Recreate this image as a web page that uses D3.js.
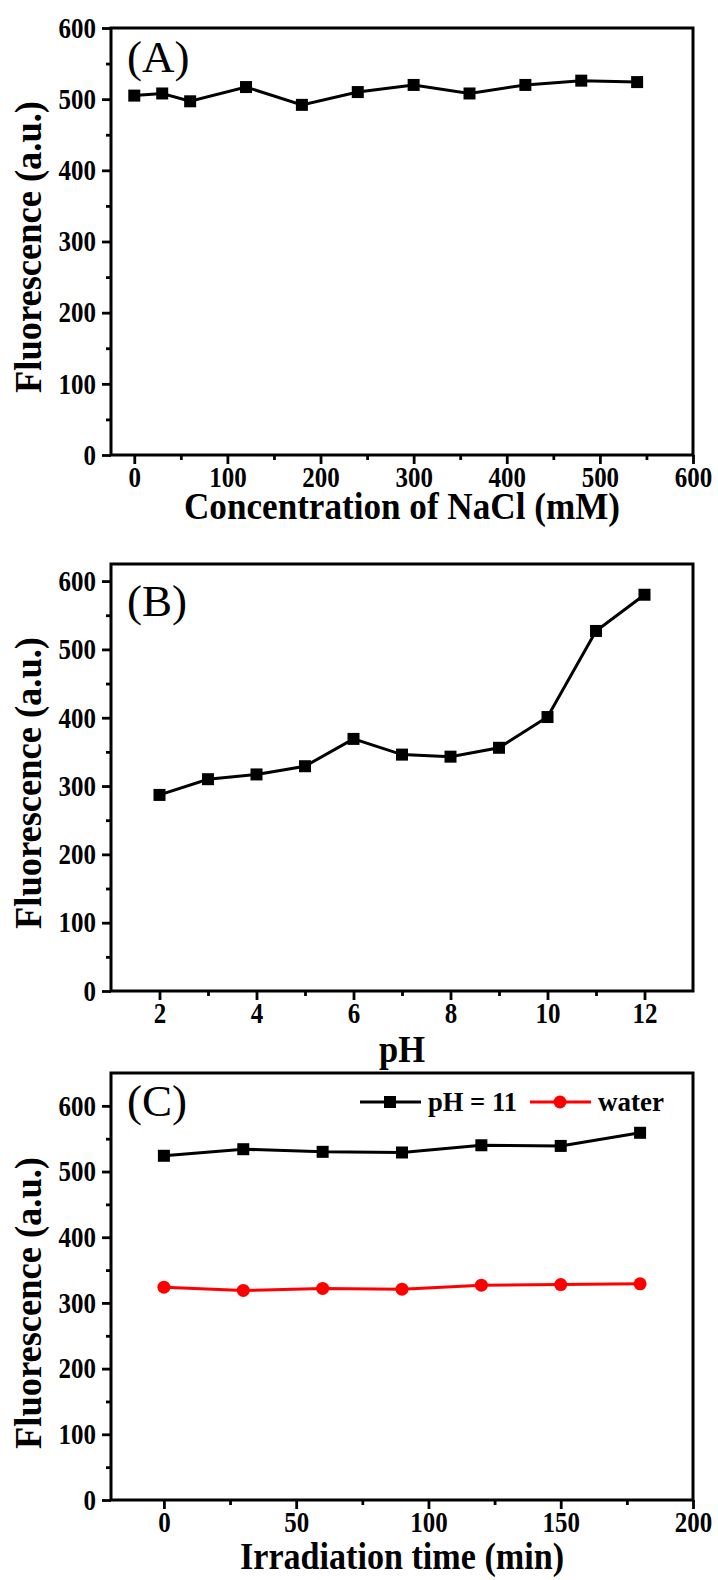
<!DOCTYPE html>
<html>
<head>
<meta charset="utf-8">
<script src="https://cdn.jsdelivr.net/npm/d3@7"></script>
<style>
  body { margin: 0; background: #fff; }
</style>
</head>
<body>
<div id="chart"></div>
<script>
// data
var naclConc = [0, 30, 60, 120, 180, 240, 300, 360, 420, 480, 540];
var naclFluor = [505, 508, 497, 517, 492, 510, 520, 508, 520, 526, 524];

var phVals = [2, 3, 4, 5, 6, 7, 8, 9, 10, 11, 12];
var phFluor = [287, 310, 317, 329, 369, 346, 343, 356, 401, 527, 580];

var irrTime = [0, 30, 60, 90, 120, 150, 180];
var fluorPH11 = [524, 534, 530, 529, 540, 539, 559];
var fluorWater = [324, 319, 322, 321, 327, 328, 329];

var yTicks = [0, 100, 200, 300, 400, 500, 600];
var yMinor = [50, 150, 250, 350, 450, 550];
var naclTicks = [0, 100, 200, 300, 400, 500, 600];
var naclMinor = [50, 150, 250, 350, 450, 550];
var phTicks = [2, 4, 6, 8, 10, 12];
var phMinor = [3, 5, 7, 9, 11];
var timeTicks = [0, 50, 100, 150, 200];
var timeMinor = [25, 75, 125, 175];

var legendNames = ["pH = 11", "water"];

var FONT = "Liberation Serif";
var W = 718, H = 1580;
var left = 111, plotW = 582, plotH = 427;

var svg = d3.select("#chart").append("svg")
    .attr("width", W)
    .attr("height", H)
    .attr("font-family", FONT);

function panel(cfg) {
    var x = d3.scaleLinear().domain(cfg.xDomain).range([left, left + plotW]);
    var y = d3.scaleLinear().domain(cfg.yDomain).range([cfg.top + plotH, cfg.top]);
    var g = svg.append("g");

    // minor ticks first
    g.append("g")
        .attr("transform", "translate(0," + (cfg.top + plotH) + ")")
        .call(d3.axisBottom(x).tickValues(cfg.xMinor).tickSize(5).tickFormat(""))
        .call(styleAxis);
    g.append("g")
        .attr("transform", "translate(" + left + ",0)")
        .call(d3.axisLeft(y).tickValues(yMinor).tickSize(5).tickFormat(""))
        .call(styleAxis);

    g.append("g")
        .attr("transform", "translate(0," + (cfg.top + plotH) + ")")
        .call(d3.axisBottom(x).tickValues(cfg.xTicks).tickSize(9).tickPadding(2))
        .call(styleAxis);
    g.append("g")
        .attr("transform", "translate(" + left + ",0)")
        .call(d3.axisLeft(y).tickValues(yTicks).tickSize(9).tickPadding(6))
        .call(styleAxis);

    // frame
    g.append("rect")
        .attr("x", left)
        .attr("y", cfg.top)
        .attr("width", plotW)
        .attr("height", plotH)
        .attr("fill", "none")
        .attr("stroke", "#000")
        .attr("stroke-width", 3);

    var line = d3.line()
        .x(function(d) { return x(d[0]); })
        .y(function(d) { return y(d[1]); });

    cfg.series.forEach(function(s) {
        var pts = d3.zip(cfg.xs, s.values);
        g.append("path")
            .datum(pts)
            .attr("fill", "none")
            .attr("stroke", s.color)
            .attr("stroke-width", 3)
            .attr("d", line);
        if (s.shape == "square") {
            g.selectAll(null)
                .data(pts)
                .enter()
                .append("rect")
                .attr("x", function(d) { return x(d[0]) - 6; })
                .attr("y", function(d) { return y(d[1]) - 6; })
                .attr("width", 12)
                .attr("height", 12)
                .attr("fill", s.color);
        } else {
            g.selectAll(null)
                .data(pts)
                .enter()
                .append("circle")
                .attr("cx", function(d) { return x(d[0]); })
                .attr("cy", function(d) { return y(d[1]); })
                .attr("r", 6.5)
                .attr("fill", s.color);
        }
    });

    // panel letter
    g.append("text")
        .attr("x", left + 16)
        .attr("y", cfg.letterY)
        .attr("font-family", FONT)
        .attr("font-size", 45)
        .text(cfg.letter);

    // axis titles
    g.append("text")
        .attr("class", "fit")
        .attr("data-w", cfg.xTitleW)
        .attr("x", left + plotW / 2)
        .attr("y", cfg.xTitleY)
        .attr("text-anchor", "middle")
        .attr("font-family", FONT)
        .attr("font-size", 37)
        .attr("font-weight", "bold")
        .text(cfg.xTitle);

    g.append("text")
        .attr("class", "fit")
        .attr("data-w", 292)
        .attr("transform", "translate(41," + cfg.yTitleC + ") rotate(-90)")
        .attr("text-anchor", "middle")
        .attr("font-family", FONT)
        .attr("font-size", 38)
        .attr("font-weight", "bold")
        .text("Fluorescence (a.u.)");

    return g;
}

function styleAxis(sel) {
    sel.attr("font-family", FONT);
    sel.select(".domain").remove();
    sel.selectAll(".tick line").attr("stroke", "#000").attr("stroke-width", 2.8);
    sel.selectAll(".tick text")
        .attr("class", "sq")
        .attr("fill", "#000")
        .attr("font-size", 29)
        .attr("font-weight", "bold")
        .attr("font-family", FONT);
}

panel({
    top: 28,
    xDomain: [-25, 600], yDomain: [0, 600],
    xTicks: naclTicks, xMinor: naclMinor,
    xs: naclConc,
    series: [{ values: naclFluor, color: "#000", shape: "square" }],
    letter: "(A)", letterY: 72,
    xTitle: "Concentration of NaCl (mM)", xTitleY: 519, xTitleW: 436,
    yTitleC: 247
});

panel({
    top: 564,
    xDomain: [1, 13], yDomain: [0, 625],
    xTicks: phTicks, xMinor: phMinor,
    xs: phVals,
    series: [{ values: phFluor, color: "#000", shape: "square" }],
    letter: "(B)", letterY: 616,
    xTitle: "pH", xTitleY: 1062, xTitleW: 46,
    yTitleC: 783
});

panel({
    top: 1073,
    xDomain: [-20, 200], yDomain: [0, 650],
    xTicks: timeTicks, xMinor: timeMinor,
    xs: irrTime,
    series: [
        { values: fluorPH11, color: "#000", shape: "square" },
        { values: fluorWater, color: "#ff0000", shape: "circle" }
    ],
    letter: "(C)", letterY: 1116,
    xTitle: "Irradiation time (min)", xTitleY: 1569, xTitleW: 324,
    yTitleC: 1303
});

// legend for panel C
var legend = svg.append("g");
var legendItems = [
    { name: legendNames[0], color: "#000", shape: "square", x0: 360, w: 89 },
    { name: legendNames[1], color: "#ff0000", shape: "circle", x0: 530, w: 66 }
];
legendItems.forEach(function(d) {
    var ly = 1102;
    legend.append("line")
        .attr("x1", d.x0).attr("x2", d.x0 + 61)
        .attr("y1", ly).attr("y2", ly)
        .attr("stroke", d.color)
        .attr("stroke-width", 3);
    if (d.shape == "square") {
        legend.append("rect")
            .attr("x", d.x0 + 30 - 6).attr("y", ly - 6)
            .attr("width", 12).attr("height", 12)
            .attr("fill", d.color);
    } else {
        legend.append("circle")
            .attr("cx", d.x0 + 30).attr("cy", ly)
            .attr("r", 6.5)
            .attr("fill", d.color);
    }
    legend.append("text")
        .attr("class", "fit")
        .attr("data-w", d.w)
        .attr("x", d.x0 + 68)
        .attr("y", ly + 9)
        .attr("font-family", FONT)
        .attr("font-size", 28)
        .attr("font-weight", "bold")
        .text(d.name);
});

// the figure's lettering is narrow, squeeze the glyphs horizontally
svg.selectAll("text.sq").each(function() {
    var len = this.getComputedTextLength();
    d3.select(this).attr("textLength", len * 0.86).attr("lengthAdjust", "spacingAndGlyphs");
});
svg.selectAll("text.fit").each(function() {
    d3.select(this).attr("textLength", +this.getAttribute("data-w")).attr("lengthAdjust", "spacingAndGlyphs");
});
</script>
</body>
</html>
